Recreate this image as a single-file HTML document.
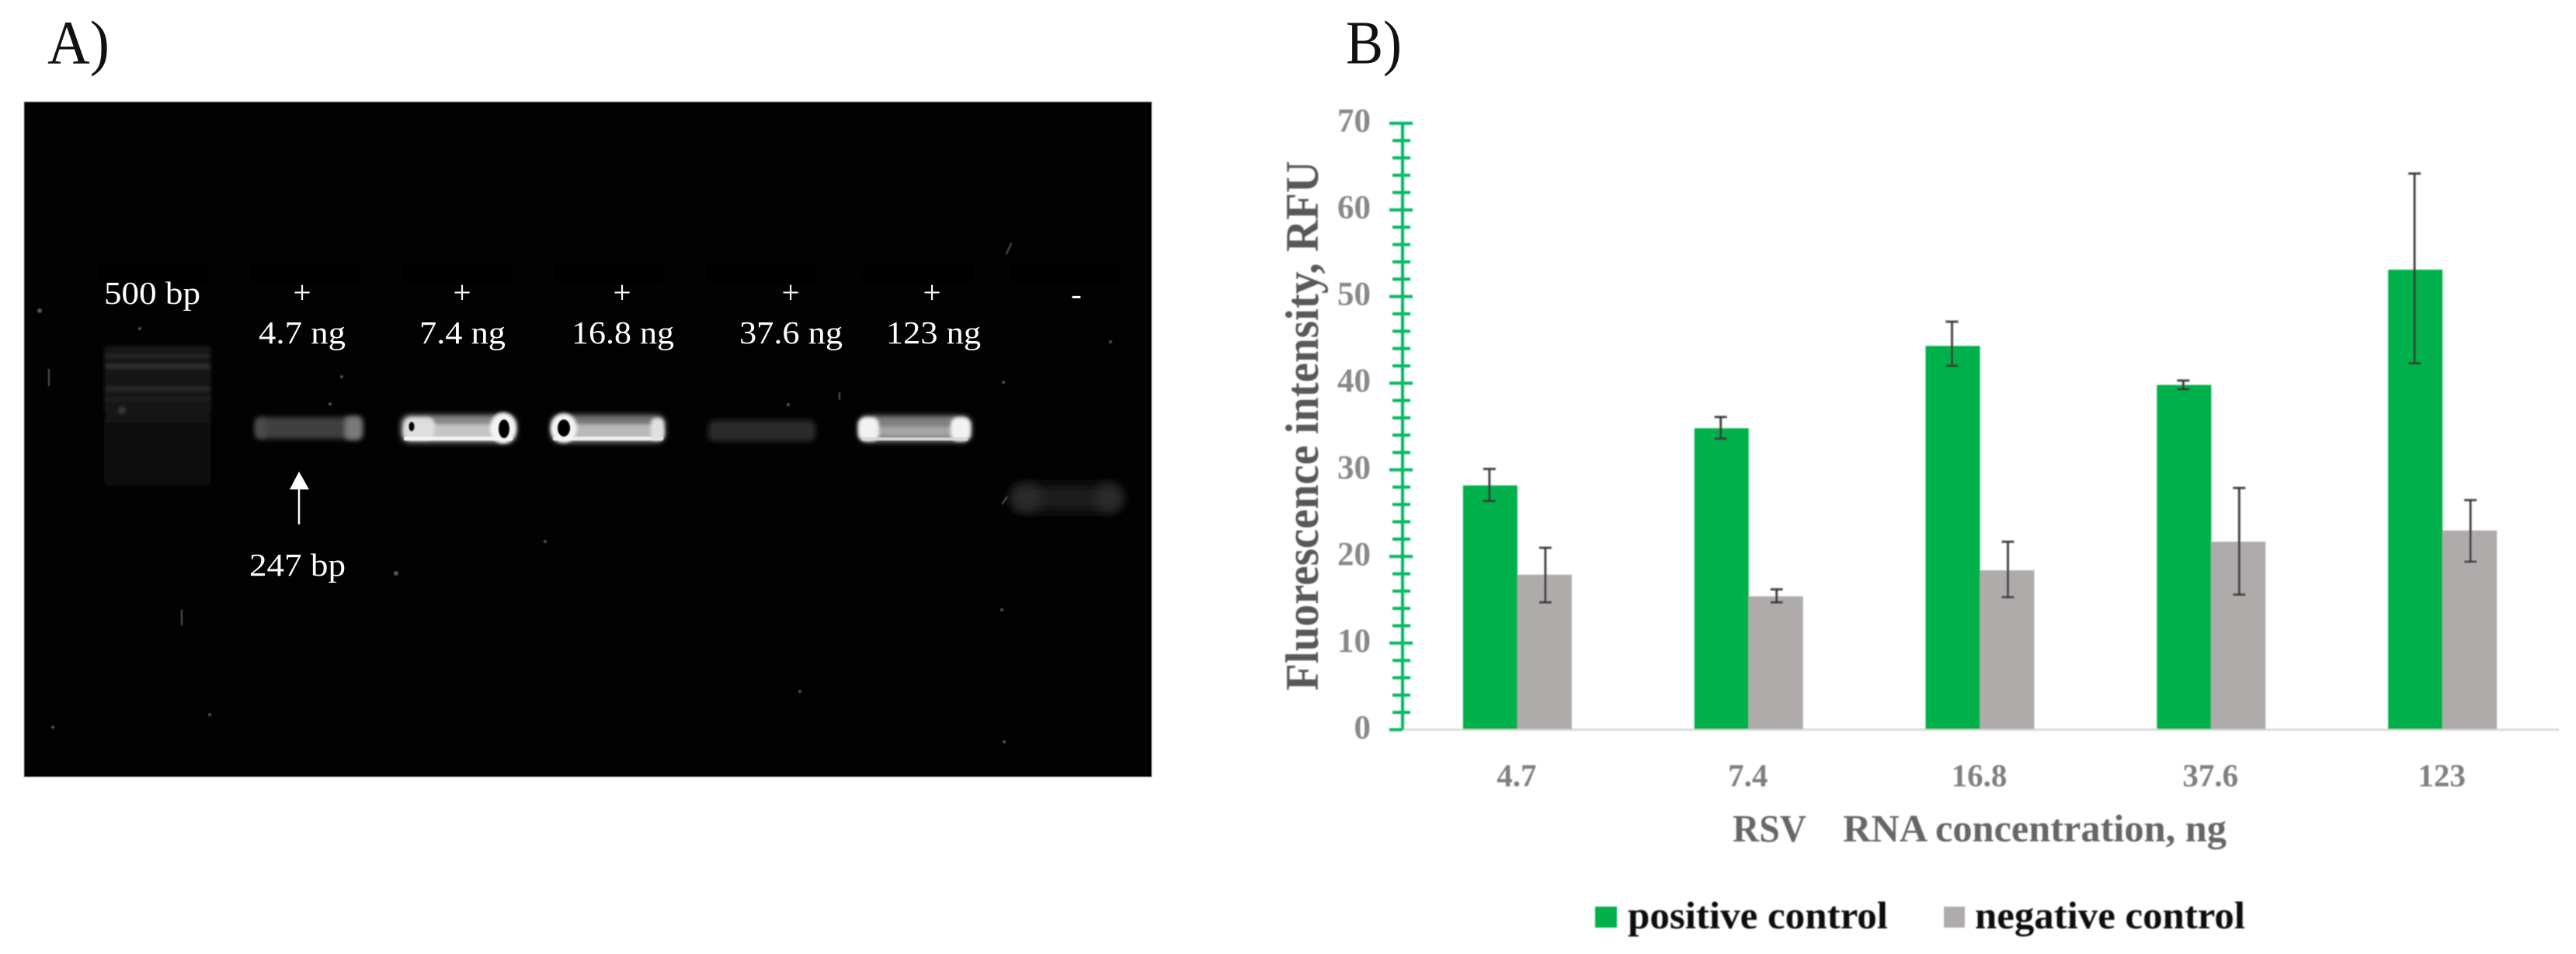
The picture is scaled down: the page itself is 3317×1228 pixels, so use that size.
<!DOCTYPE html>
<html lang="en">
<head>
<meta charset="utf-8">
<title>RSV RNA gel and fluorescence chart</title>
<style>
html,body{margin:0;padding:0;background:#fff;width:3317px;height:1228px;overflow:hidden}
svg{display:block}
text{font-family:"Liberation Serif",serif}
</style>
</head>
<body>
<svg id="fig" xmlns="http://www.w3.org/2000/svg" width="3317" height="1228" viewBox="0 0 3317 1228">
<defs>
<filter id="b1" x="-30%" y="-30%" width="160%" height="160%"><feGaussianBlur stdDeviation="0.9"/></filter>
<filter id="b2" x="-30%" y="-60%" width="160%" height="220%"><feGaussianBlur stdDeviation="2"/></filter>
<filter id="b3" x="-30%" y="-60%" width="160%" height="220%"><feGaussianBlur stdDeviation="3.5"/></filter>
<filter id="b6" x="-30%" y="-80%" width="160%" height="260%"><feGaussianBlur stdDeviation="7"/></filter>
</defs>
<rect width="3317" height="1228" fill="#fff"/>
<text x="61" y="81.5" font-size="79" fill="#111" textLength="80" lengthAdjust="spacingAndGlyphs">A)</text>
<text x="1733" y="81.5" font-size="79" fill="#111" textLength="72" lengthAdjust="spacingAndGlyphs">B)</text>

<g>
<rect x="31" y="131" width="1452" height="869" fill="#020202" stroke="#aaa" stroke-width="1"/>
<g fill="#000">
<rect x="130" y="337" width="140" height="28" rx="8"/><rect x="325" y="337" width="140" height="28" rx="8"/><rect x="520" y="337" width="140" height="28" rx="8"/><rect x="715" y="337" width="140" height="28" rx="8"/><rect x="912" y="337" width="140" height="28" rx="8"/><rect x="1110" y="337" width="140" height="28" rx="8"/><rect x="1303" y="337" width="140" height="28" rx="8"/>
</g>
<g filter="url(#b2)">
<rect x="134" y="445" width="138" height="90" rx="6" fill="#131313"/>
<rect x="134" y="535" width="138" height="90" rx="6" fill="#0b0b0b"/>
<rect x="136" y="456" width="134" height="5" fill="#252525"/>
<rect x="136" y="469" width="134" height="5" fill="#303030"/>
<rect x="136" y="498" width="134" height="5" fill="#2c2c2c"/>
<rect x="136" y="512" width="134" height="4" fill="#232323"/>
<rect x="136" y="530" width="134" height="14" fill="#191919"/>
<circle cx="157" cy="528" r="4" fill="#3c3c3c"/>
</g>
<g>
<rect x="329" y="537" width="138" height="28" rx="8" fill="#404040" filter="url(#b3)"/>
<rect x="444" y="536" width="22" height="30" rx="6" fill="#7a7a7a" filter="url(#b3)"/>
<rect x="329" y="538" width="14" height="26" rx="6" fill="#4c4c4c" filter="url(#b3)"/>
</g>
<g>
<rect x="516" y="534" width="149" height="36" rx="12" fill="#888" filter="url(#b3)"/>
<rect x="520" y="546" width="140" height="20" rx="8" fill="#c4c4c4" filter="url(#b2)"/>
<rect x="520" y="537" width="40" height="29" rx="10" fill="#dedede" filter="url(#b2)"/>
<rect x="520" y="562" width="140" height="5" rx="2" fill="#f4f4f4" filter="url(#b1)"/>
<ellipse cx="648" cy="551" rx="17" ry="20" fill="#f4f4f4" filter="url(#b2)"/>
<ellipse cx="530" cy="549" rx="3.5" ry="6" fill="#000" filter="url(#b1)"/>
<ellipse cx="649" cy="552" rx="7" ry="12" fill="#000" filter="url(#b1)"/>
</g>
<g>
<rect x="709" y="534" width="148" height="36" rx="12" fill="#777" filter="url(#b3)"/>
<rect x="712" y="546" width="142" height="20" rx="8" fill="#b8b8b8" filter="url(#b2)"/>
<rect x="712" y="562" width="142" height="5" rx="2" fill="#eee" filter="url(#b1)"/>
<rect x="838" y="538" width="17" height="29" rx="7" fill="#e0e0e0" filter="url(#b2)"/>
<ellipse cx="726" cy="551" rx="17" ry="19" fill="#f4f4f4" filter="url(#b2)"/>
<ellipse cx="726" cy="551" rx="8" ry="11" fill="#000" filter="url(#b1)"/>
</g>
<g>
<rect x="912" y="541" width="138" height="27" rx="8" fill="#2a2a2a" filter="url(#b3)"/>
</g>
<g>
<rect x="1105" y="535" width="146" height="34" rx="12" fill="#808080" filter="url(#b3)"/>
<rect x="1115" y="549" width="126" height="12" fill="#a5a5a5" filter="url(#b2)"/>
<rect x="1105" y="537" width="27" height="31" rx="10" fill="#f2f2f2" filter="url(#b2)"/>
<rect x="1224" y="537" width="26" height="31" rx="10" fill="#f2f2f2" filter="url(#b2)"/>
<rect x="1110" y="563" width="136" height="4" fill="#d8d8d8" filter="url(#b1)"/>
</g>
<g>
<rect x="1303" y="624" width="140" height="34" rx="14" fill="#1b1b1b" filter="url(#b6)"/>
<ellipse cx="1322" cy="641" rx="20" ry="18" fill="#292929" filter="url(#b6)"/>
<ellipse cx="1428" cy="641" rx="18" ry="18" fill="#292929" filter="url(#b6)"/>
</g>
<g fill="#555" filter="url(#b1)">
<circle cx="51" cy="400" r="3"/><circle cx="180" cy="423" r="2"/><circle cx="440" cy="485" r="2"/><circle cx="425" cy="520" r="2"/><circle cx="702" cy="697" r="2"/><circle cx="510" cy="738" r="3"/><circle cx="1030" cy="890" r="2"/><circle cx="1290" cy="785" r="2"/><circle cx="1293" cy="955" r="2"/><circle cx="270" cy="920" r="2"/><circle cx="68" cy="936" r="2"/><circle cx="1430" cy="440" r="2"/><circle cx="1015" cy="521" r="2"/><circle cx="1292" cy="492" r="2"/><rect x="233" y="785" width="2" height="20"/><rect x="62" y="475" width="2" height="22"/><rect x="1298" y="312" width="2" height="16" transform="rotate(25 1299 320)"/><rect x="1292" y="638" width="2" height="12" transform="rotate(35 1293 645)"/><rect x="1080" y="505" width="2" height="10"/>
</g>
<g fill="#fff" font-size="41">
<text x="134" y="391" textLength="124" lengthAdjust="spacingAndGlyphs">500 bp</text>
<text x="389" y="390" text-anchor="middle">+</text>
<text x="595" y="390" text-anchor="middle">+</text>
<text x="801" y="390" text-anchor="middle">+</text>
<text x="1018" y="390" text-anchor="middle">+</text>
<text x="1200" y="390" text-anchor="middle">+</text>
<text x="1386" y="392" text-anchor="middle">-</text>
<text x="333" y="442" textLength="112" lengthAdjust="spacingAndGlyphs">4.7 ng</text>
<text x="540" y="442" textLength="111" lengthAdjust="spacingAndGlyphs">7.4 ng</text>
<text x="736" y="442" textLength="132" lengthAdjust="spacingAndGlyphs">16.8 ng</text>
<text x="952" y="442" textLength="133" lengthAdjust="spacingAndGlyphs">37.6 ng</text>
<text x="1141" y="442" textLength="122" lengthAdjust="spacingAndGlyphs">123 ng</text>
<text x="321" y="741" textLength="124" lengthAdjust="spacingAndGlyphs">247 bp</text>
</g>
<g>
<line x1="385" y1="628" x2="385" y2="675" stroke="#fff" stroke-width="2.5"/>
<polygon points="385,607 398,630 373,630" fill="#fff"/>
</g>
</g>

<g id="chart"></g>
</svg>

<script>
var categories = ['4.7', '7.4', '16.8', '37.6', '123'];
var positiveValues = [28.2, 34.8, 44.3, 39.8, 53.1];
var negativeValues = [17.9, 15.4, 18.4, 21.7, 23.0];
var positiveUpper = [30.1, 36.1, 47.1, 40.3, 64.2];
var positiveLower = [26.4, 33.6, 42.0, 39.3, 42.3];
var negativeUpper = [21.0, 16.2, 21.7, 27.9, 26.5];
var negativeLower = [14.7, 14.7, 15.3, 15.6, 19.4];
var yTickLabels = [0, 10, 20, 30, 40, 50, 60, 70];
var yMinorStep = [2];

var NS = 'http://www.w3.org/2000/svg';
var chart = document.getElementById('chart');
var AX = {left: 1806, right: 3295, bottom: 939.3, top: 158.7, yMax: 70, barW: 70};
function yScale(v) { return AX.bottom - (v / AX.yMax) * (AX.bottom - AX.top); }
function xCenter(i) { return AX.left - 1 + (i + 0.5) * (AX.right - AX.left) / categories.length; }
function mk(tag, attrs, parent) {
  var el = document.createElementNS(NS, tag);
  for (var k in attrs) el.setAttribute(k, attrs[k]);
  (parent || chart).appendChild(el);
  return el;
}

var plot = mk('g', {filter: 'url(#b1)'});



function drawBar(x, v, fill, name) {
  var r = mk('rect', {x: x, y: yScale(v), width: AX.barW, height: AX.bottom - yScale(v) - 1, fill: fill}, plot);
  
  
}
function drawError(x, hi, lo, name) {
  var g = mk('g', {stroke: '#333', 'stroke-opacity': 0.9, 'stroke-width': 3, fill: 'none'}, plot);
  
  
  mk('line', {x1: x, x2: x, y1: yScale(hi), y2: yScale(lo)}, g);
  mk('line', {x1: x - 8, x2: x + 8, y1: yScale(hi), y2: yScale(hi)}, g);
  mk('line', {x1: x - 8, x2: x + 8, y1: yScale(lo), y2: yScale(lo)}, g);
}

var baseline = mk('line', {x1: AX.left, x2: AX.right, y1: AX.bottom, y2: AX.bottom, stroke: '#d9d9d9', 'stroke-width': 3}, plot);



categories.forEach(function (c, i) {
  var cx = xCenter(i);
  drawBar(cx - AX.barW, positiveValues[i], '#00b04c', 'bar-positive-' + c);
  drawBar(cx, negativeValues[i], '#afabab', 'bar-negative-' + c);
  drawError(cx - AX.barW / 2 - 1, positiveUpper[i], positiveLower[i], 'error-bar-positive-' + c);
  drawError(cx + AX.barW / 2 + 1, negativeUpper[i], negativeLower[i], 'error-bar-negative-' + c);
});

var axisLine = mk('line', {x1: AX.left, x2: AX.left, y1: AX.top, y2: AX.bottom, stroke: '#00b964', 'stroke-width': 4}, plot);



for (var v = 0; v <= AX.yMax; v += yMinorStep[0]) {
  var major = v % 10 === 0;
  var x1 = major ? AX.left - 17 : AX.left - 13;
  var x2 = v === 0 ? AX.left : (major ? AX.left + 13 : AX.left + 10);
  var tick = mk('line', {x1: x1, x2: x2, y1: yScale(v), y2: yScale(v), stroke: '#00b964', 'stroke-width': 4}, plot);
  
  
}

var textLayer = mk('g', {filter: 'url(#b1)'});



yTickLabels.forEach(function (v) {
  var t = mk('text', {x: 1765, y: yScale(v) + 11, 'text-anchor': 'end', 'font-size': 43, 'font-weight': 'bold', fill: '#888'}, textLayer);
  t.textContent = v;
  
  
});
categories.forEach(function (c, i) {
  var t = mk('text', {x: xCenter(i) - 1, y: 1012, 'text-anchor': 'middle', 'font-size': 41, 'font-weight': 'bold', fill: '#7f7f7f'}, textLayer);
  t.textContent = c;
  
  
});

var yTitle = mk('text', {transform: 'translate(1697 889) rotate(-90)', x: 0, y: 0, 'font-size': 60, 'font-weight': 'bold', fill: '#595959', textLength: 682, lengthAdjust: 'spacingAndGlyphs'}, textLayer);
yTitle.textContent = 'Fluorescence intensity, RFU';



var xTitleA = mk('text', {x: 2231, y: 1083, 'font-size': 50, 'font-weight': 'bold', fill: '#666', textLength: 95, lengthAdjust: 'spacingAndGlyphs'}, textLayer);
xTitleA.textContent = 'RSV';



var xTitleB = mk('text', {x: 2373, y: 1083, 'font-size': 50, 'font-weight': 'bold', fill: '#666', textLength: 494, lengthAdjust: 'spacingAndGlyphs'}, textLayer);
xTitleB.textContent = 'RNA concentration, ng';



var legend = mk('g', {filter: 'url(#b1)'});



var swatchPos = mk('rect', {x: 2054, y: 1167, width: 28, height: 27, fill: '#00b04c'}, legend);



var labelPos = mk('text', {x: 2096, y: 1195, 'font-size': 50, 'font-weight': 'bold', fill: '#111', textLength: 335, lengthAdjust: 'spacingAndGlyphs'}, legend);
labelPos.textContent = 'positive control';



var swatchNeg = mk('rect', {x: 2503, y: 1167, width: 27, height: 27, fill: '#afabab'}, legend);



var labelNeg = mk('text', {x: 2543, y: 1195, 'font-size': 50, 'font-weight': 'bold', fill: '#111', textLength: 348, lengthAdjust: 'spacingAndGlyphs'}, legend);
labelNeg.textContent = 'negative control';


</script>
</body>
</html>
